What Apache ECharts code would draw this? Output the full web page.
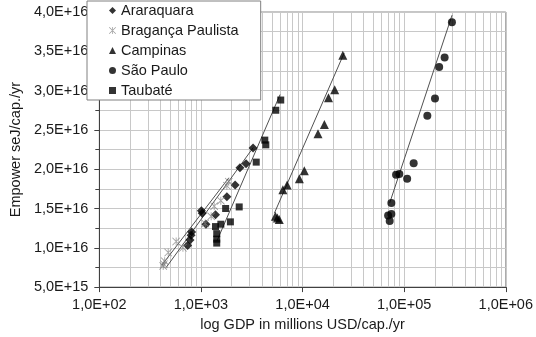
<!DOCTYPE html>
<html>
<head>
<meta charset="utf-8">
<script src="https://cdn.jsdelivr.net/npm/echarts@6/dist/echarts.min.js"></script>
<style>
  html, body { margin: 0; padding: 0; background: #fff; }
  #chart { width: 536px; height: 337px; }
</style>
</head>
<body>
<div id="chart"></div>
<script>
// values (GDP in millions USD/cap./yr, empower in seJ/cap./yr)
var araraquaraX = [740, 780, 800, 810, 1010, 1030, 1120, 1390, 1800, 2170, 2420, 2780, 3260];
var araraquaraY = [10.3e15, 11.0e15, 11.6e15, 12.0e15, 14.7e15, 14.4e15, 13.0e15, 14.2e15, 16.5e15, 18.0e15, 20.2e15, 20.7e15, 22.7e15];

var bragancaX = [425, 432, 440, 476, 570, 665, 1100, 1260, 1350, 1570, 1800, 1880];
var bragancaY = [7.7e15, 7.9e15, 8.3e15, 9.4e15, 10.8e15, 10.0e15, 13.1e15, 14.0e15, 15.3e15, 16.0e15, 17.9e15, 18.4e15];

var campinasX = [5400, 5650, 5900, 6400, 7050, 9300, 10400, 14200, 16400, 18000, 20700, 24900];
var campinasY = [14.0e15, 13.8e15, 13.6e15, 17.4e15, 18.0e15, 18.8e15, 19.8e15, 24.5e15, 25.7e15, 29.1e15, 30.1e15, 34.5e15];

var saoPauloX = [69500, 72000, 74800, 74800, 83200, 89600, 107000, 124000, 169000, 201000, 221000, 250000, 295000];
var saoPauloY = [14.1e15, 13.4e15, 14.3e15, 15.7e15, 19.3e15, 19.4e15, 18.8e15, 20.75e15, 26.8e15, 29.0e15, 33.0e15, 34.2e15, 38.7e15];

var taubateX = [1390, 1430, 1430, 1430, 1570, 1750, 1950, 2380, 3500, 4250, 4350, 5450, 6100];
var taubateY = [12.7e15, 11.8e15, 11.1e15, 10.6e15, 13.0e15, 15.0e15, 13.3e15, 15.2e15, 20.9e15, 23.7e15, 23.1e15, 27.5e15, 28.8e15];

// trend line end points
var araraquaraTrend = [[455, 7.5e15], [3270, 22.75e15]];
var bragancaTrend = [[410, 7.75e15], [1880, 18.9e15]];
var campinasTrend = [[5280, 14.4e15], [25700, 34.8e15]];
var saoPauloTrend = [[72000, 15.7e15], [296000, 39.6e15]];
var taubateTrend = [[1440, 10.9e15], [6010, 29.5e15]];

// log axis minor grid positions
var xMinorGrid = [200, 300, 400, 500, 600, 700, 800, 900,
  2000, 3000, 4000, 5000, 6000, 7000, 8000, 9000,
  20000, 30000, 40000, 50000, 60000, 70000, 80000, 90000,
  200000, 300000, 400000, 500000, 600000, 700000, 800000, 900000];

var seriesNames = ["Araraquara", "Bragança Paulista", "Campinas", "São Paulo", "Taubaté"];

var FONT = "'Liberation Sans', Arial, sans-serif";
var GRID_COLOR = "#c8c8c8";
var TEXT_COLOR = "#1a1a1a";
var ASTERISK = "path://M4.5 0L5.5 0L5.5 10L4.5 10Z M0 0.7L0.7 0L10 9.3L9.3 10Z M10 0.7L9.3 0L0 9.3L0.7 10Z";

function pairs(xs, ys) {
  return xs.map(function (x, i) { return [x, ys[i]]; });
}

// 4,0E+16 style labels
function sci(v) {
  var e = Math.floor(Math.log10(v) + 1e-9);
  var m = v / Math.pow(10, e);
  return m.toFixed(1).replace(".", ",") + "E+" + (e < 10 ? "0" : "") + e;
}

function scatter(name, xs, ys, symbol, size, color) {
  return {
    name: name,
    type: "scatter",
    data: pairs(xs, ys),
    symbol: symbol,
    symbolSize: size,
    itemStyle: { color: color },
    z: 3
  };
}

function trend(name, pts) {
  return {
    name: name + " trend",
    type: "line",
    data: pts,
    symbol: "none",
    lineStyle: { color: "#505050", width: 1 },
    z: 2
  };
}

var myChart = echarts.init(document.getElementById("chart"));
myChart.setOption({
  animation: false,
  textStyle: { fontFamily: FONT },
  grid: {
    left: 83,
    right: 28,
    top: 12,
    bottom: 45,
    show: true,
    borderColor: "#8c8c8c",
    borderWidth: 1
  },
  legend: {
    data: seriesNames,
    orient: "vertical",
    left: 87,
    top: 1,
    padding: [2, 22, 2, 22],
    itemWidth: 7,
    itemHeight: 7,
    itemGap: 5,
    itemTextGap: 3,
    backgroundColor: "#fff",
    borderColor: "#808080",
    borderWidth: 1,
    textStyle: { fontFamily: FONT, fontSize: 14.5, color: TEXT_COLOR }
  },
  xAxis: {
    type: "log",
    logBase: 10,
    min: 100,
    max: 1000000,
    name: "log GDP in millions USD/cap./yr",
    nameLocation: "middle",
    nameGap: 23,
    nameTextStyle: { fontFamily: FONT, fontSize: 14.5, color: TEXT_COLOR },
    axisLine: { lineStyle: { color: "#404040" } },
    axisTick: { length: 5, lineStyle: { color: "#404040" } },
    axisLabel: { formatter: sci, margin: 10, fontSize: 14.5, color: TEXT_COLOR },
    splitLine: { show: true, lineStyle: { color: GRID_COLOR } }
  },
  yAxis: {
    type: "value",
    min: 5e15,
    max: 4e16,
    interval: 5e15,
    name: "Empower seJ/cap./yr",
    nameLocation: "middle",
    nameGap: 67,
    nameTextStyle: { fontFamily: FONT, fontSize: 14.5, color: TEXT_COLOR },
    axisLine: { show: true, lineStyle: { color: "#404040" } },
    axisTick: { show: true, length: 5, lineStyle: { color: "#404040" } },
    minorTick: { show: true, splitNumber: 2, length: 4, lineStyle: { color: "#404040" } },
    axisLabel: { formatter: sci, margin: 11, fontSize: 14.5, color: TEXT_COLOR },
    splitLine: { show: true, lineStyle: { color: GRID_COLOR } },
    minorSplitLine: { show: true, lineStyle: { color: GRID_COLOR } }
  },
  series: [
    {
      name: "minor grid",
      type: "scatter",
      data: [],
      markLine: {
        silent: true,
        z: 1,
        symbol: ["none", "none"],
        label: { show: false },
        lineStyle: { color: GRID_COLOR, type: "solid", width: 1 },
        data: xMinorGrid.map(function (v) { return { xAxis: v }; })
      }
    },
    scatter("Araraquara", araraquaraX, araraquaraY, "diamond", 9, "#000"),
    scatter("Bragança Paulista", bragancaX, bragancaY, ASTERISK, 8, "#7f7f7f"),
    scatter("Campinas", campinasX, campinasY, "triangle", 9, "#000"),
    scatter("São Paulo", saoPauloX, saoPauloY, "circle", 8, "#000"),
    scatter("Taubaté", taubateX, taubateY, "rect", 7, "#000"),
    trend("Araraquara", araraquaraTrend),
    trend("Bragança Paulista", bragancaTrend),
    trend("Campinas", campinasTrend),
    trend("São Paulo", saoPauloTrend),
    trend("Taubaté", taubateTrend)
  ]
});
</script>
</body>
</html>
